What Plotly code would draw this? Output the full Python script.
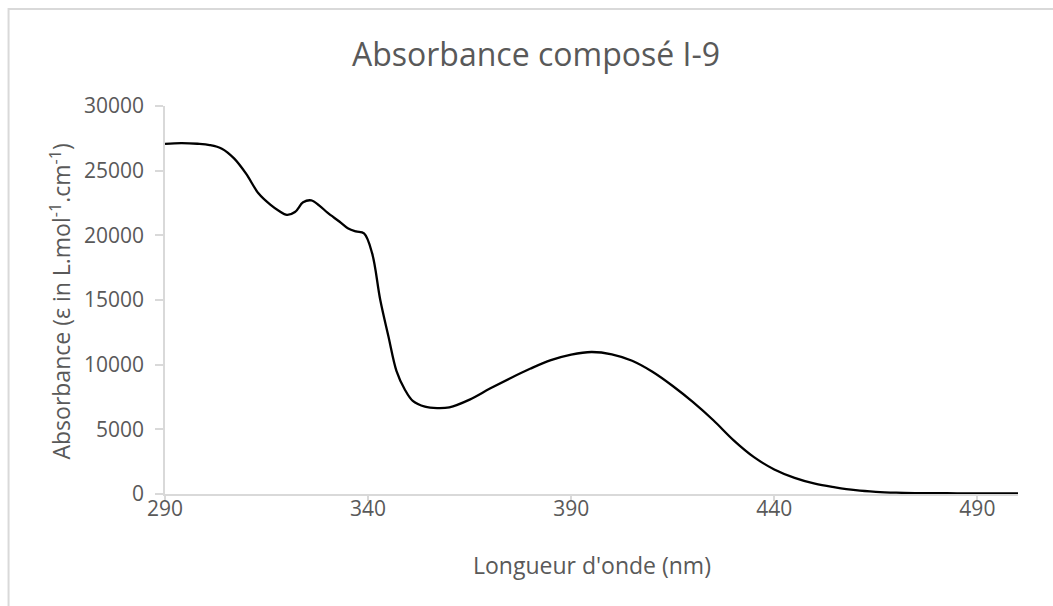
import plotly.graph_objects as go

# UV-visible absorption spectrum of compound I-9
wavelength_nm = [290, 294, 298, 301, 304, 307, 310, 313, 316, 318, 320, 322, 324, 326, 328,
                 330, 333, 335, 337, 339, 341, 343, 345, 347, 349, 351, 354, 357, 360,
                 365, 370, 375, 380, 385, 390, 395, 400, 405, 410, 415, 420, 425, 430,
                 435, 440, 445, 450, 455, 460, 465, 470, 475, 480, 485, 490, 495, 500]
epsilon = [27070, 27130, 27080, 26980, 26700, 25950, 24750, 23250, 22350, 21900, 21580,
           21800, 22550, 22700, 22300, 21750, 21050, 20550, 20300, 20150, 18600, 15000,
           12200, 9500, 8100, 7200, 6750, 6640, 6700, 7300, 8150, 8950, 9700, 10350,
           10780, 10980, 10800, 10300, 9450, 8350, 7100, 5700, 4150, 2850, 1900, 1250,
           800, 520, 300, 170, 100, 70, 60, 55, 45, 40, 45]

x_ticks = [290, 340, 390, 440, 490]
y_ticks = [0, 5000, 10000, 15000, 20000, 25000, 30000]

title_text = "Absorbance composé I-9"
x_title = "Longueur d'onde (nm)"
y_title = "Absorbance (ε in L.mol<sup>-1</sup>.cm<sup>-1</sup>)"

FONT = "Open Sans"
TEXT = "#595959"
AXIS = "#d9d9d9"

fig = go.Figure()
fig.add_trace(go.Scatter(
    x=wavelength_nm, y=epsilon, mode="lines",
    line=dict(color="#000000", width=2.3, shape="spline", smoothing=1.0),
    showlegend=False, hoverinfo="skip",
))

fig.update_layout(
    width=1053, height=606,
    margin=dict(l=165, r=35, t=106, b=112),
    paper_bgcolor="white", plot_bgcolor="white",
    font=dict(family=FONT, color=TEXT),
    title=dict(text=title_text, font=dict(family=FONT, size=32, color=TEXT),
               xref="container", x=0.509, xanchor="center",
               yref="container", y=1 - 55 / 606, yanchor="middle"),
    xaxis=dict(range=[290, 500], tickmode="array", tickvals=x_ticks,
               ticktext=[str(v) for v in x_ticks],
               showgrid=False, zeroline=False,
               showline=True, linecolor=AXIS, linewidth=1.5,
               ticks="outside", ticklen=5, tickcolor=AXIS, tickwidth=1.5,
               ticklabelstandoff=-10,
               tickfont=dict(family=FONT, size=21, color=TEXT)),
    yaxis=dict(range=[0, 30000], tickmode="array", tickvals=y_ticks,
               ticktext=[str(v) for v in y_ticks],
               showgrid=False, zeroline=False,
               showline=True, linecolor=AXIS, linewidth=1.5,
               ticks="outside", ticklen=8, tickcolor=AXIS, tickwidth=1.5,
               ticklabelstandoff=7,
               tickfont=dict(family=FONT, size=21, color=TEXT)),
    annotations=[
        dict(text=x_title, xref="paper", yref="paper", x=0.5, y=-0.183,
             xanchor="center", yanchor="middle", showarrow=False,
             font=dict(family=FONT, size=23, color=TEXT)),
        dict(text=y_title, xref="paper", yref="paper", x=-0.1224, y=0.495,
             xanchor="center", yanchor="middle", showarrow=False, textangle=-90,
             font=dict(family=FONT, size=23, color=TEXT)),
    ],
    shapes=[
        dict(type="rect", xref="paper", yref="paper",
             x0=-0.1834, y0=-0.6, x1=1.3, y1=1.25,
             line=dict(color=AXIS, width=2), fillcolor="rgba(0,0,0,0)", layer="below"),
    ],
)

fig.write_html("out.html")
